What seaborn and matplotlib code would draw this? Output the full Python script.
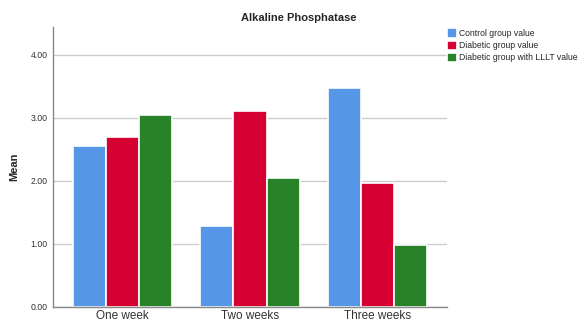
import pandas as pd
import matplotlib.pyplot as plt
import seaborn as sns

periods = ['One week', 'Two weeks', 'Three weeks']
groups = ['Control group value', 'Diabetic group value', 'Diabetic group with LLLT value']
control = [2.55, 1.29, 3.47]
diabetic = [2.69, 3.10, 1.97]
diabetic_lllt = [3.04, 2.05, 0.99]
colors = ['#5596E6', '#D70033', '#288228']

df = pd.DataFrame({
    'Period': periods * 3,
    'Group': [groups[0]] * 3 + [groups[1]] * 3 + [groups[2]] * 3,
    'Mean': control + diabetic + diabetic_lllt,
})

sns.set_style('white')
plt.rcParams['font.family'] = ['Liberation Sans', 'DejaVu Sans']

fig = plt.figure(figsize=(5.87, 3.24), dpi=100)
ax = fig.add_axes([0.0903, 0.0525, 0.6712, 0.8642])

sns.barplot(data=df, x='Period', y='Mean', hue='Group', palette=colors,
            saturation=1, width=0.78, edgecolor='white', linewidth=1.2, ax=ax)

ax.set_ylim(0, 4.44)
ax.set_xlim(-0.545, 2.545)
ax.set_yticks([0, 1, 2, 3, 4])
ax.set_yticklabels(['0.00', '1.00', '2.00', '3.00', '4.00'], fontsize=6.3, color='#333333')
ax.tick_params(axis='x', labelsize=8.5, colors='#333333', length=0, pad=2)
ax.tick_params(axis='y', length=0, pad=4)
ax.yaxis.grid(True, color='#cccccc', linewidth=1)
ax.set_axisbelow(True)
for s in ['top', 'right']:
    ax.spines[s].set_visible(False)
for s in ['left', 'bottom']:
    ax.spines[s].set_color('#888888')
    ax.spines[s].set_linewidth(1)

ax.set_xlabel('')
ax.set_ylabel('Mean', fontsize=8, fontweight='bold', labelpad=8)
fig.text(0.509, 0.945, 'Alkaline Phosphatase', ha='center', va='center',
         fontsize=8, fontweight='bold')

leg = ax.legend(loc='upper left', bbox_to_anchor=(1.0, 0.995), frameon=False,
                fontsize=6.2, handlelength=1.2, handleheight=1.3, handletextpad=0.25,
                labelspacing=0.3, borderaxespad=0.0, borderpad=0.0)

fig.savefig('out.png', dpi=100)
